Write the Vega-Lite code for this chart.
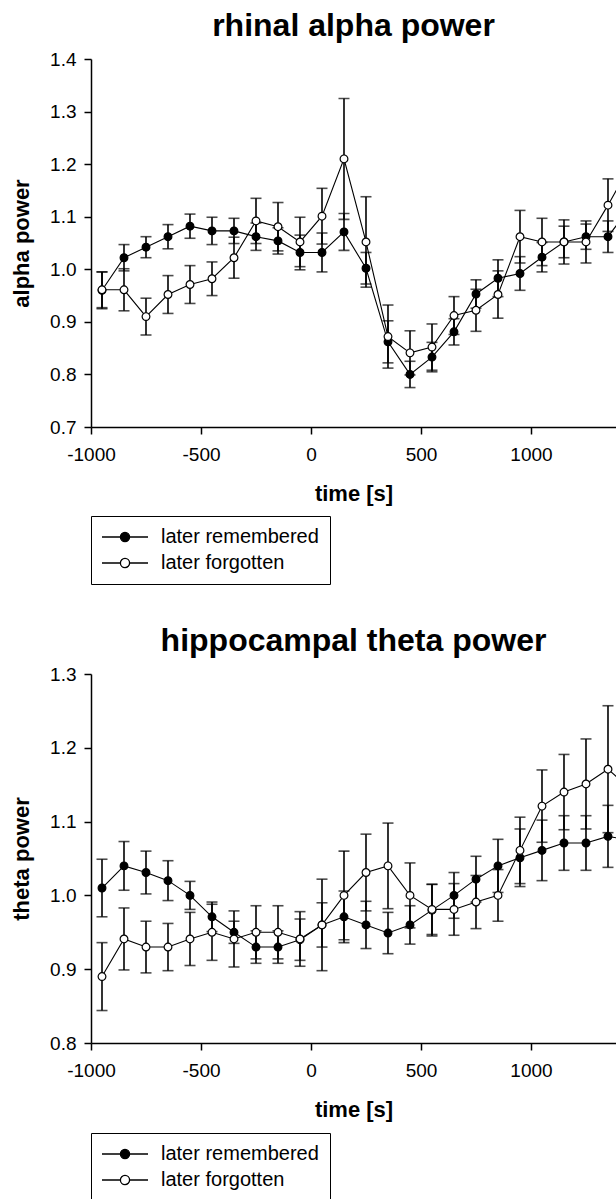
{
  "$schema": "https://vega.github.io/schema/vega-lite/v6.json",
  "padding": {"left": 10, "top": 10, "right": 0, "bottom": 0},
  "background": "white",
  "spacing": 40,
  "config": {
    "view": {"stroke": null},
    "font": "Liberation Sans",
    "axis": {"domainColor": "black", "domainWidth": 1.5, "tickColor": "black", "tickWidth": 1.5, "tickSize": 7, "labelFont": "Liberation Sans", "labelFontSize": 19, "labelColor": "black", "titleFont": "Liberation Sans", "titleFontSize": 22, "titleFontWeight": "bold", "titleColor": "black", "grid": false},
    "title": {"font": "Liberation Sans", "fontSize": 32, "fontWeight": "bold", "color": "black", "offset": 7, "frame": "group", "anchor": "middle"},
    "legend": {"title": null, "direction": "vertical", "symbolType": "M-2,0H1.68M3.52,0H7.2M3.52,0A0.92,0.92,0,1,1,1.68,0A0.92,0.92,0,1,1,3.52,0Z", "symbolSize": 100, "symbolStrokeColor": "black", "symbolStrokeWidth": 1.3, "labelFont": "Liberation Sans", "labelFontSize": 20, "labelColor": "black", "labelOffset": 39, "strokeColor": "black", "padding": 11, "rowPadding": 6, "fillColor": "white"}
  },
  "datasets": {
    "d": [
      {"p":"alpha","g":"later remembered","t":-950,"v":0.960,"lo":0.925,"hi":0.995},
      {"p":"alpha","g":"later remembered","t":-850,"v":1.022,"lo":0.997,"hi":1.047},
      {"p":"alpha","g":"later remembered","t":-750,"v":1.042,"lo":1.022,"hi":1.062},
      {"p":"alpha","g":"later remembered","t":-650,"v":1.062,"lo":1.039,"hi":1.085},
      {"p":"alpha","g":"later remembered","t":-550,"v":1.082,"lo":1.059,"hi":1.105},
      {"p":"alpha","g":"later remembered","t":-450,"v":1.073,"lo":1.047,"hi":1.099},
      {"p":"alpha","g":"later remembered","t":-350,"v":1.073,"lo":1.049,"hi":1.097},
      {"p":"alpha","g":"later remembered","t":-250,"v":1.062,"lo":1.036,"hi":1.088},
      {"p":"alpha","g":"later remembered","t":-150,"v":1.054,"lo":1.029,"hi":1.079},
      {"p":"alpha","g":"later remembered","t":-50,"v":1.032,"lo":0.999,"hi":1.065},
      {"p":"alpha","g":"later remembered","t":50,"v":1.032,"lo":0.995,"hi":1.069},
      {"p":"alpha","g":"later remembered","t":150,"v":1.071,"lo":1.036,"hi":1.106},
      {"p":"alpha","g":"later remembered","t":250,"v":1.002,"lo":0.972,"hi":1.032},
      {"p":"alpha","g":"later remembered","t":350,"v":0.862,"lo":0.822,"hi":0.902},
      {"p":"alpha","g":"later remembered","t":450,"v":0.800,"lo":0.775,"hi":0.825},
      {"p":"alpha","g":"later remembered","t":550,"v":0.833,"lo":0.805,"hi":0.861},
      {"p":"alpha","g":"later remembered","t":650,"v":0.881,"lo":0.856,"hi":0.906},
      {"p":"alpha","g":"later remembered","t":750,"v":0.953,"lo":0.926,"hi":0.980},
      {"p":"alpha","g":"later remembered","t":850,"v":0.983,"lo":0.948,"hi":1.018},
      {"p":"alpha","g":"later remembered","t":950,"v":0.992,"lo":0.960,"hi":1.024},
      {"p":"alpha","g":"later remembered","t":1050,"v":1.023,"lo":0.995,"hi":1.051},
      {"p":"alpha","g":"later remembered","t":1150,"v":1.052,"lo":1.022,"hi":1.082},
      {"p":"alpha","g":"later remembered","t":1250,"v":1.062,"lo":1.038,"hi":1.086},
      {"p":"alpha","g":"later remembered","t":1350,"v":1.062,"lo":1.032,"hi":1.092},
      {"p":"alpha","g":"later remembered","t":1450,"v":1.118,"lo":1.088,"hi":1.148},
      {"p":"alpha","g":"later forgotten","t":-950,"v":0.961,"lo":0.927,"hi":0.995},
      {"p":"alpha","g":"later forgotten","t":-850,"v":0.961,"lo":0.921,"hi":1.001},
      {"p":"alpha","g":"later forgotten","t":-750,"v":0.910,"lo":0.875,"hi":0.945},
      {"p":"alpha","g":"later forgotten","t":-650,"v":0.952,"lo":0.916,"hi":0.988},
      {"p":"alpha","g":"later forgotten","t":-550,"v":0.971,"lo":0.935,"hi":1.007},
      {"p":"alpha","g":"later forgotten","t":-450,"v":0.982,"lo":0.950,"hi":1.014},
      {"p":"alpha","g":"later forgotten","t":-350,"v":1.022,"lo":0.983,"hi":1.061},
      {"p":"alpha","g":"later forgotten","t":-250,"v":1.092,"lo":1.049,"hi":1.135},
      {"p":"alpha","g":"later forgotten","t":-150,"v":1.081,"lo":1.035,"hi":1.127},
      {"p":"alpha","g":"later forgotten","t":-50,"v":1.052,"lo":1.005,"hi":1.099},
      {"p":"alpha","g":"later forgotten","t":50,"v":1.101,"lo":1.048,"hi":1.154},
      {"p":"alpha","g":"later forgotten","t":150,"v":1.210,"lo":1.095,"hi":1.325},
      {"p":"alpha","g":"later forgotten","t":250,"v":1.052,"lo":0.966,"hi":1.138},
      {"p":"alpha","g":"later forgotten","t":350,"v":0.872,"lo":0.812,"hi":0.932},
      {"p":"alpha","g":"later forgotten","t":450,"v":0.841,"lo":0.799,"hi":0.883},
      {"p":"alpha","g":"later forgotten","t":550,"v":0.852,"lo":0.808,"hi":0.896},
      {"p":"alpha","g":"later forgotten","t":650,"v":0.912,"lo":0.876,"hi":0.948},
      {"p":"alpha","g":"later forgotten","t":750,"v":0.922,"lo":0.882,"hi":0.962},
      {"p":"alpha","g":"later forgotten","t":850,"v":0.952,"lo":0.907,"hi":0.997},
      {"p":"alpha","g":"later forgotten","t":950,"v":1.062,"lo":1.012,"hi":1.112},
      {"p":"alpha","g":"later forgotten","t":1050,"v":1.052,"lo":1.007,"hi":1.097},
      {"p":"alpha","g":"later forgotten","t":1150,"v":1.052,"lo":1.010,"hi":1.094},
      {"p":"alpha","g":"later forgotten","t":1250,"v":1.052,"lo":1.012,"hi":1.092},
      {"p":"alpha","g":"later forgotten","t":1350,"v":1.122,"lo":1.072,"hi":1.172},
      {"p":"alpha","g":"later forgotten","t":1450,"v":1.196,"lo":1.146,"hi":1.246},
      {"p":"theta","g":"later remembered","t":-950,"v":1.010,"lo":0.971,"hi":1.049},
      {"p":"theta","g":"later remembered","t":-850,"v":1.040,"lo":1.007,"hi":1.073},
      {"p":"theta","g":"later remembered","t":-750,"v":1.031,"lo":1.002,"hi":1.060},
      {"p":"theta","g":"later remembered","t":-650,"v":1.020,"lo":0.993,"hi":1.047},
      {"p":"theta","g":"later remembered","t":-550,"v":1.000,"lo":0.981,"hi":1.019},
      {"p":"theta","g":"later remembered","t":-450,"v":0.971,"lo":0.951,"hi":0.991},
      {"p":"theta","g":"later remembered","t":-350,"v":0.950,"lo":0.935,"hi":0.965},
      {"p":"theta","g":"later remembered","t":-250,"v":0.930,"lo":0.908,"hi":0.952},
      {"p":"theta","g":"later remembered","t":-150,"v":0.930,"lo":0.908,"hi":0.952},
      {"p":"theta","g":"later remembered","t":-50,"v":0.940,"lo":0.912,"hi":0.968},
      {"p":"theta","g":"later remembered","t":50,"v":0.960,"lo":0.930,"hi":0.990},
      {"p":"theta","g":"later remembered","t":150,"v":0.971,"lo":0.936,"hi":1.006},
      {"p":"theta","g":"later remembered","t":250,"v":0.960,"lo":0.928,"hi":0.992},
      {"p":"theta","g":"later remembered","t":350,"v":0.949,"lo":0.921,"hi":0.977},
      {"p":"theta","g":"later remembered","t":450,"v":0.960,"lo":0.934,"hi":0.986},
      {"p":"theta","g":"later remembered","t":550,"v":0.980,"lo":0.945,"hi":1.015},
      {"p":"theta","g":"later remembered","t":650,"v":1.000,"lo":0.969,"hi":1.031},
      {"p":"theta","g":"later remembered","t":750,"v":1.022,"lo":0.991,"hi":1.053},
      {"p":"theta","g":"later remembered","t":850,"v":1.040,"lo":1.004,"hi":1.076},
      {"p":"theta","g":"later remembered","t":950,"v":1.051,"lo":1.012,"hi":1.090},
      {"p":"theta","g":"later remembered","t":1050,"v":1.061,"lo":1.020,"hi":1.102},
      {"p":"theta","g":"later remembered","t":1150,"v":1.071,"lo":1.034,"hi":1.108},
      {"p":"theta","g":"later remembered","t":1250,"v":1.071,"lo":1.034,"hi":1.108},
      {"p":"theta","g":"later remembered","t":1350,"v":1.080,"lo":1.038,"hi":1.122},
      {"p":"theta","g":"later remembered","t":1450,"v":1.075,"lo":1.035,"hi":1.115},
      {"p":"theta","g":"later forgotten","t":-950,"v":0.890,"lo":0.844,"hi":0.936},
      {"p":"theta","g":"later forgotten","t":-850,"v":0.941,"lo":0.899,"hi":0.983},
      {"p":"theta","g":"later forgotten","t":-750,"v":0.930,"lo":0.895,"hi":0.965},
      {"p":"theta","g":"later forgotten","t":-650,"v":0.930,"lo":0.898,"hi":0.962},
      {"p":"theta","g":"later forgotten","t":-550,"v":0.941,"lo":0.905,"hi":0.977},
      {"p":"theta","g":"later forgotten","t":-450,"v":0.950,"lo":0.912,"hi":0.988},
      {"p":"theta","g":"later forgotten","t":-350,"v":0.941,"lo":0.903,"hi":0.979},
      {"p":"theta","g":"later forgotten","t":-250,"v":0.950,"lo":0.914,"hi":0.986},
      {"p":"theta","g":"later forgotten","t":-150,"v":0.950,"lo":0.914,"hi":0.986},
      {"p":"theta","g":"later forgotten","t":-50,"v":0.941,"lo":0.904,"hi":0.978},
      {"p":"theta","g":"later forgotten","t":50,"v":0.960,"lo":0.898,"hi":1.022},
      {"p":"theta","g":"later forgotten","t":150,"v":1.000,"lo":0.940,"hi":1.060},
      {"p":"theta","g":"later forgotten","t":250,"v":1.031,"lo":0.979,"hi":1.083},
      {"p":"theta","g":"later forgotten","t":350,"v":1.040,"lo":0.982,"hi":1.098},
      {"p":"theta","g":"later forgotten","t":450,"v":1.000,"lo":0.956,"hi":1.044},
      {"p":"theta","g":"later forgotten","t":550,"v":0.981,"lo":0.947,"hi":1.015},
      {"p":"theta","g":"later forgotten","t":650,"v":0.981,"lo":0.946,"hi":1.016},
      {"p":"theta","g":"later forgotten","t":750,"v":0.991,"lo":0.955,"hi":1.027},
      {"p":"theta","g":"later forgotten","t":850,"v":1.000,"lo":0.965,"hi":1.035},
      {"p":"theta","g":"later forgotten","t":950,"v":1.061,"lo":1.016,"hi":1.106},
      {"p":"theta","g":"later forgotten","t":1050,"v":1.121,"lo":1.072,"hi":1.170},
      {"p":"theta","g":"later forgotten","t":1150,"v":1.140,"lo":1.089,"hi":1.191},
      {"p":"theta","g":"later forgotten","t":1250,"v":1.151,"lo":1.090,"hi":1.212},
      {"p":"theta","g":"later forgotten","t":1350,"v":1.171,"lo":1.085,"hi":1.257},
      {"p":"theta","g":"later forgotten","t":1450,"v":1.145,"lo":1.065,"hi":1.225}
    ]
  },
  "resolve": {"scale": {"fill": "independent", "x": "independent", "y": "independent"}, "legend": {"fill": "independent"}},
  "vconcat": [
    {
      "title": "rhinal alpha power",
      "width": 525,
      "height": 368,
      "data": {"name": "d"},
      "transform": [{"filter": "datum.p === 'alpha'"}],
      "encoding": {
        "x": {"field": "t", "type": "quantitative", "title": "time [s]", "scale": {"domain": [-1000, 1386.4], "nice": false, "zero": false}, "axis": {"values": [-1000, -500, 0, 500, 1000], "labelExpr": "datum.value + ''", "labelPadding": 11, "titlePadding": 19, "labelFlush": false}}
      },
      "layer": [
        {"mark": {"type": "rule", "clip": true, "color": "black", "strokeWidth": 1.6},
         "encoding": {"y": {"field": "lo", "type": "quantitative", "title": "alpha power", "scale": {"domain": [0.7, 1.4], "nice": false, "zero": false}, "axis": {"values": [0.7, 0.8, 0.9, 1.0, 1.1, 1.2, 1.3, 1.4], "format": ".1f", "labelPadding": 8, "titlePadding": 16}}, "y2": {"field": "hi"}}},
        {"mark": {"type": "tick", "orient": "horizontal", "clip": true, "color": "black", "size": 11, "thickness": 1.6},
         "encoding": {"y": {"field": "lo", "type": "quantitative", "title": "alpha power"}}},
        {"mark": {"type": "tick", "orient": "horizontal", "clip": true, "color": "black", "size": 11, "thickness": 1.6},
         "encoding": {"y": {"field": "hi", "type": "quantitative", "title": "alpha power"}}},
        {"mark": {"type": "line", "clip": true, "color": "black", "strokeWidth": 1.1},
         "encoding": {"y": {"field": "v", "type": "quantitative", "title": "alpha power"}, "detail": {"field": "g"}}},
        {"mark": {"type": "point", "clip": true, "filled": true, "stroke": "black", "strokeWidth": 1.2, "size": 60, "opacity": 1},
         "encoding": {"y": {"field": "v", "type": "quantitative", "title": "alpha power"},
           "fill": {"field": "g", "type": "nominal", "scale": {"domain": ["later remembered", "later forgotten"], "range": ["black", "white"]}, "legend": {"orient": "none", "legendX": 0, "legendY": 457}}}}
      ]
    },
    {
      "title": "hippocampal theta power",
      "width": 525,
      "height": 369,
      "data": {"name": "d"},
      "transform": [{"filter": "datum.p === 'theta'"}],
      "encoding": {
        "x": {"field": "t", "type": "quantitative", "title": "time [s]", "scale": {"domain": [-1000, 1386.4], "nice": false, "zero": false}, "axis": {"values": [-1000, -500, 0, 500, 1000], "labelExpr": "datum.value + ''", "labelPadding": 11, "titlePadding": 19, "labelFlush": false}}
      },
      "layer": [
        {"mark": {"type": "rule", "clip": true, "color": "black", "strokeWidth": 1.6},
         "encoding": {"y": {"field": "lo", "type": "quantitative", "title": "theta power", "scale": {"domain": [0.8, 1.3], "nice": false, "zero": false}, "axis": {"values": [0.8, 0.9, 1.0, 1.1, 1.2, 1.3], "format": ".1f", "labelPadding": 8, "titlePadding": 16}}, "y2": {"field": "hi"}}},
        {"mark": {"type": "tick", "orient": "horizontal", "clip": true, "color": "black", "size": 11, "thickness": 1.6},
         "encoding": {"y": {"field": "lo", "type": "quantitative", "title": "theta power"}}},
        {"mark": {"type": "tick", "orient": "horizontal", "clip": true, "color": "black", "size": 11, "thickness": 1.6},
         "encoding": {"y": {"field": "hi", "type": "quantitative", "title": "theta power"}}},
        {"mark": {"type": "line", "clip": true, "color": "black", "strokeWidth": 1.1},
         "encoding": {"y": {"field": "v", "type": "quantitative", "title": "theta power"}, "detail": {"field": "g"}}},
        {"mark": {"type": "point", "clip": true, "filled": true, "stroke": "black", "strokeWidth": 1.2, "size": 60, "opacity": 1},
         "encoding": {"y": {"field": "v", "type": "quantitative", "title": "theta power"},
           "fill": {"field": "g", "type": "nominal", "scale": {"domain": ["later remembered", "later forgotten"], "range": ["black", "white"]}, "legend": {"orient": "none", "legendX": 0, "legendY": 459}}}}
      ]
    }
  ]
}
